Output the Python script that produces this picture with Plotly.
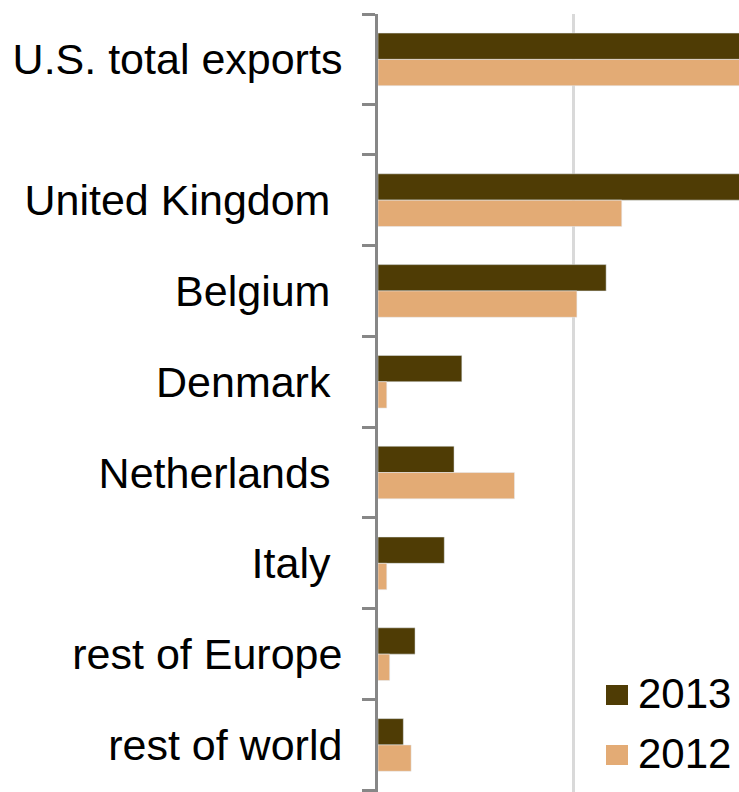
import plotly.graph_objects as go

# categories, top to bottom ('' is the empty spacer row)
categories = ['U.S. total exports', '', 'United Kingdom', 'Belgium', 'Denmark',
              'Netherlands', 'Italy', 'rest of Europe', 'rest of world']
# values (grid line = 1.0); the top ones run off the chart
values_2013 = [2.5, None, 2.1, 1.17, 0.43, 0.39, 0.34, 0.19, 0.13]
values_2012 = [2.4, None, 1.25, 1.02, 0.045, 0.70, 0.045, 0.06, 0.17]
series_names = ['2013', '2012']

dark = '#4f3c05'
light = '#e3ab75'
axis_grey = '#878787'

# the spacer row is drawn thinner than the real rows
band = [0.55 if c == '' else 1.0 for c in categories]
edges = [0.0]
for b in band:
    edges.append(edges[-1] + b)
centers = [(edges[i] + edges[i + 1]) / 2 for i in range(len(categories))]

# some labels in the original carry a trailing blank
padded = {'United Kingdom', 'Belgium', 'Denmark', 'Netherlands', 'Italy'}
labels = [c + '\u00a0' if c in padded else c for c in categories]

rows = [i for i, c in enumerate(categories) if c != '']
y_rows = [centers[i] for i in rows]

W, H = 739, 792
ml, mt = 378, 14
x_max = (W - ml) / 195.0
y_max = (H - mt) / 90.8

fig = go.Figure()
fig.add_trace(go.Bar(y=y_rows, x=[values_2013[i] for i in rows], orientation='h',
                     name=series_names[0], marker_color=dark, showlegend=False))
fig.add_trace(go.Bar(y=y_rows, x=[values_2012[i] for i in rows], orientation='h',
                     name=series_names[1], marker_color=light, showlegend=False))

fig.update_layout(
    width=W, height=H,
    margin=dict(l=ml, r=0, t=mt, b=0, pad=0),
    plot_bgcolor='white', paper_bgcolor='white',
    barmode='group', bargap=0.42, bargroupgap=0,
    font=dict(family='Liberation Sans, Arial, sans-serif', size=43, color='black'),
)
fig.update_xaxes(range=[0, x_max], tickvals=[0, 1, 2], showticklabels=False,
                 showgrid=True, gridcolor='#d9d9d9', gridwidth=3, zeroline=False)
fig.update_yaxes(range=[y_max, 0], tickvals=centers, ticktext=labels,
                 ticks='outside', ticklen=13, tickcolor='rgba(0,0,0,0)',
                 ticklabelstandoff=11, showgrid=False, zeroline=False,
                 showline=True, linewidth=3, linecolor=axis_grey,
                 minor=dict(tickvals=edges, ticks='outside', ticklen=13,
                            tickwidth=3, tickcolor=axis_grey, showgrid=False))

# hand-drawn legend at bottom right
def px_x(p):
    return (p - ml) / (W - ml)

def px_y(p):
    return 1 - (p - mt) / (H - mt)

legend_rows = [(series_names[0], dark, 695), (series_names[1], light, 755)]
for name, col, yc in legend_rows:
    fig.add_shape(type='rect', xref='paper', yref='paper',
                  x0=px_x(606), x1=px_x(628), y0=px_y(yc - 10), y1=px_y(yc + 10),
                  fillcolor=col, line_width=0, layer='above')
    fig.add_annotation(xref='paper', yref='paper', x=px_x(636), y=px_y(yc - 2),
                       text=name, showarrow=False, xanchor='left', yanchor='middle',
                       font=dict(size=42, color='black'))

fig.write_html("out.html", config={'displayModeBar': False},
               post_script="document.body.style.margin='0';"
                           "document.body.style.overflow='hidden';")
